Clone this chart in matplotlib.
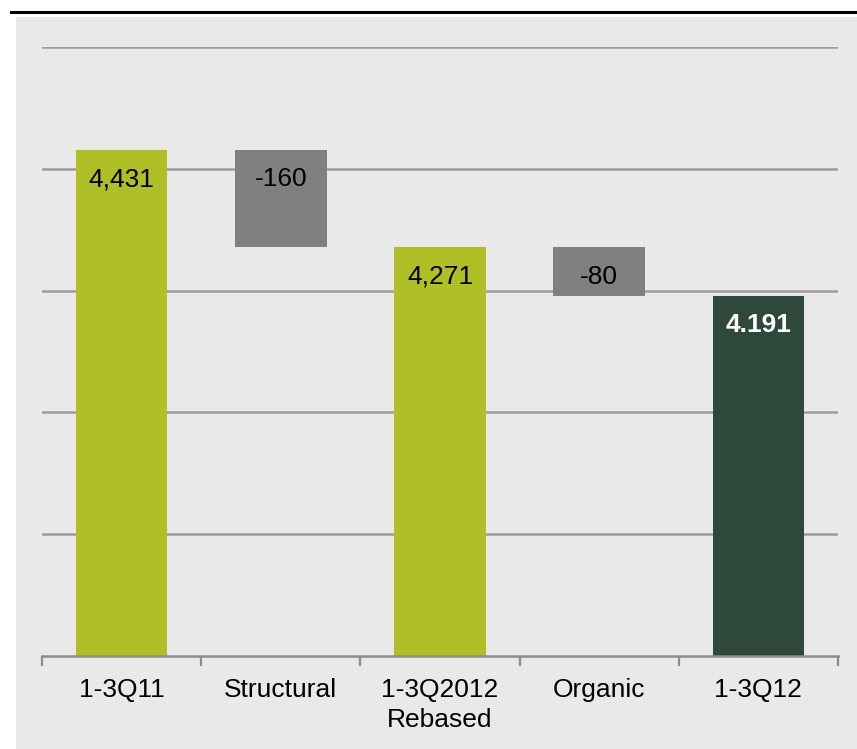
import matplotlib.pyplot as plt
from matplotlib.patches import Rectangle
from matplotlib.lines import Line2D
import numpy as np

# Waterfall: start, two changes, end
categories = ["1-3Q11", "Structural", "1-3Q2012\nRebased", "Organic", "1-3Q12"]
values = [4431, -160, 4271, -80, 4191]
kinds = ["total", "delta", "total", "delta", "end"]
value_labels = ["4,431", "-160", "4,271", "-80", "4.191"]

Y_MIN, Y_MAX, Y_STEP = 3600, 4600, 200

COLORS = {"total": "#b1bf27", "delta": "#808080", "end": "#2e493b"}
TEXT_COLORS = {"total": "black", "delta": "black", "end": "white"}

plt.rcParams["font.family"] = ["Liberation Sans", "DejaVu Sans"]

W, H = 857, 749
fig = plt.figure(figsize=(W / 100, H / 100), dpi=100, facecolor="white")

# grey panel and black rule across the top (behind the axes)
fig.patches.append(Rectangle((16 / W, 0), 1 - 16 / W, 1 - 17 / H,
                             transform=fig.transFigure, facecolor="#e9e9e9",
                             edgecolor="none", zorder=-5))
fig.lines.append(Line2D([11 / W, 1], [1 - 12 / H, 1 - 12 / H],
                        transform=fig.transFigure, color="black", linewidth=2.2,
                        zorder=-5))

ax = fig.add_axes([42 / W, 93 / H, (838 - 42) / W, (656 - 47) / H])
ax.set_facecolor("none")

x = np.arange(len(categories))
running = 0
for i, (v, k) in enumerate(zip(values, kinds)):
    if k == "delta":
        top = running
        bottom = running + v
        running = bottom
    else:
        top = v
        bottom = 0
        running = v
    ax.bar(x[i], top - bottom, 0.575, bottom=bottom, color=COLORS[k],
           edgecolor="none", zorder=3)
    ax.annotate(value_labels[i], xy=(x[i], top), xytext=(0, -21),
                textcoords="offset points", ha="center", va="center",
                fontsize=19, color=TEXT_COLORS[k],
                fontweight="bold" if k == "end" else "normal", zorder=4)

ax.set_xlim(-0.5, len(categories) - 0.5)
ax.set_ylim(Y_MIN, Y_MAX)

for y in range(Y_MIN + Y_STEP, Y_MAX + 1, Y_STEP):
    ax.axhline(y, color="#9c9c9c", linewidth=1.8, zorder=1)

for s in ("top", "right", "left"):
    ax.spines[s].set_visible(False)
ax.spines["bottom"].set_color("#8c8c8c")
ax.spines["bottom"].set_linewidth(1.8)
ax.spines["bottom"].set_zorder(5)

ax.set_yticks([])
ax.set_xticks(x)
ax.set_xticklabels(categories, fontsize=19, linespacing=1.3)
ax.tick_params(axis="x", which="major", length=0, pad=16)
ax.set_xticks(np.arange(-0.5, len(categories), 1.0), minor=True)
ax.tick_params(axis="x", which="minor", length=7, width=1.6, color="#8c8c8c")

fig.savefig("out.png", dpi=100, facecolor="white")
